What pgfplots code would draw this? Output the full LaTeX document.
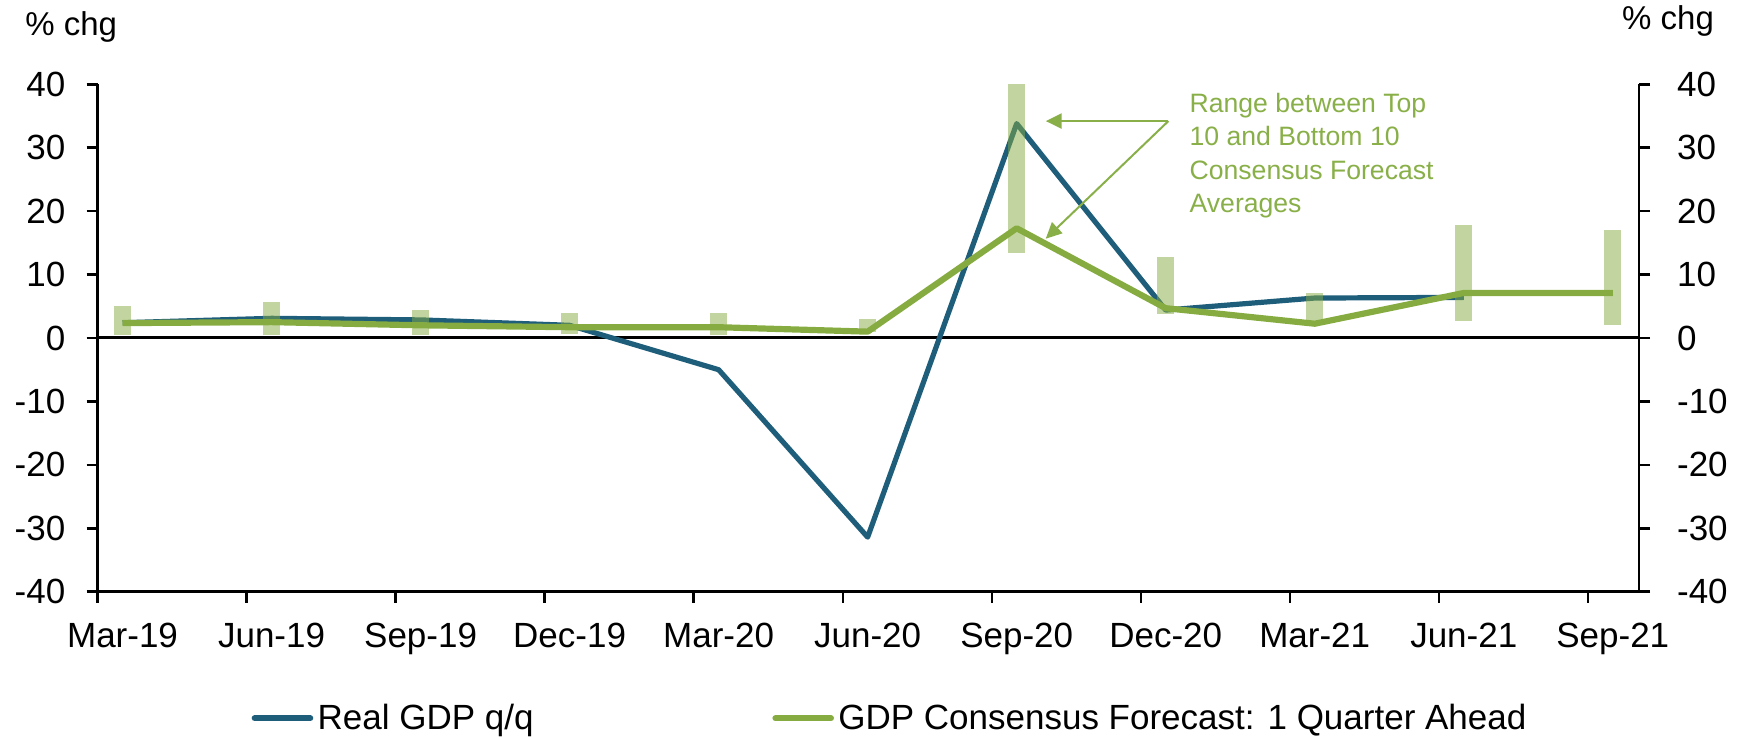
\documentclass[border=0pt]{standalone}
\usepackage{fontspec}
\setmainfont{Liberation Sans}
\usepackage{pgfplots}
\pgfplotsset{compat=1.18}
\usepackage{pgfplotstable}
\usetikzlibrary{arrows.meta}
\definecolor{gdpblue}{RGB}{31,94,122}
\definecolor{fcgreen}{RGB}{134,172,65}
\definecolor{anngreen}{RGB}{137,175,72}

\pgfplotstableread{
x gdp
0 2.4
1 3.1
2 2.85
3 2.0
4 -5.0
5 -31.4
6 33.8
7 4.4
8 6.3
9 6.4
}\gdpdata

\pgfplotstableread{
x fc
0 2.35
1 2.5
2 2.0
3 1.7
4 1.7
5 1.0
6 17.3
7 4.7
8 2.25
9 7.1
10 7.1
}\fcdata

\pgfplotstableread{
x y
0 0.55
0 5.1
0 nan
1 0.4
1 5.75
1 nan
2 0.4
2 4.35
2 nan
3 0.65
3 3.9
3 nan
4 0.55
4 4.0
4 nan
5 0.9
5 3.0
5 nan
6 13.45
6 40
6 nan
7 3.8
7 12.8
7 nan
8 2.3
8 7.05
8 nan
9 2.75
9 17.75
9 nan
10 2.1
10 16.95
}\rangedata

\begin{document}
\begin{tikzpicture}
\pgfplotsset{
  base/.style={
    scale only axis, width=770.65pt, height=253.7pt,
    xmin=-0.16667, xmax=10.176, ymin=-40, ymax=40,
    ytick={-40,-30,...,40},
    yticklabels={-40,-30,-20,-10,0,10,20,30,40},
    tick align=outside,
    major tick length=5.5pt,
    every tick/.style={black, line width=1.3pt},
    axis line style={black, line width=1.3pt},
    tick label style={font=\fontsize{17.5}{21}\selectfont, black},
  }
}
\begin{axis}[base, name=ax,
    axis x line*=bottom, axis y line*=left,
    xtick={-0.16667,0.83333,...,9.9},
    xticklabels={Mar-19,Jun-19,Sep-19,Dec-19,Mar-20,Jun-20,Sep-20,Dec-20,Mar-21,Jun-21,Sep-21},
    xticklabel style={xshift=12.42pt, yshift=-6.5pt},
    yticklabel style={xshift=-7.2pt},
    legend style={at={(axis description cs:0.0999,-0.2495)}, anchor=west,
      draw=none, fill=none, inner sep=0pt, outer sep=0pt,
      font=\fontsize{17.5}{21}\selectfont,
      nodes={inner sep=2.2pt},
      legend columns=2,
      /tikz/every even column/.append style={column sep=117.2pt}},
    legend cell align=left,
    legend image code/.code={\draw[#1, line cap=round, line width=3pt] (0pt,0pt) -- (27.8pt,0pt);},
  ]
  \addplot[forget plot, black, line width=1.5pt] coordinates {(-0.16667,0) (10.176,0)};
  \addplot[gdpblue, line width=2.6pt, line join=round] table[x=x, y=gdp] {\gdpdata};
  \addlegendentry{Real GDP q/q}
  \addplot[fcgreen, line width=3.1pt, line join=round] table[x=x, y=fc] {\fcdata};
  \addlegendentry{GDP Consensus Forecast: 1 Quarter Ahead}
  \addplot[forget plot, draw=fcgreen, draw opacity=0.5, line width=8.3pt, line cap=butt, unbounded coords=jump] table[x=x, y=y] {\rangedata};
  \draw[anngreen, line width=1.3pt, -{Triangle[length=8pt,width=7.5pt]}] (axis cs:7.018,34.2) -- (axis cs:6.195,34.2);
  \draw[anngreen, line width=1pt, -{Triangle[length=8pt,width=7.5pt]}] (axis cs:7.018,34.2) -- (axis cs:6.195,15.65);
  \node[anchor=north west, inner sep=0pt, align=left, text=anngreen, font=\fontsize{13.3}{16.7}\selectfont] at (axis cs:7.158,38.7) {Range between Top\\10 and Bottom 10\\Consensus Forecast\\Averages};
\end{axis}
\begin{axis}[base, at={(ax.south west)}, anchor=south west,
    axis x line=none, axis y line*=right,
    yticklabel style={xshift=10pt}]
\end{axis}
\node[anchor=base west, inner sep=0pt, font=\fontsize{16.5}{20}\selectfont] at ([xshift=-36.4pt, yshift=24.15pt]ax.north west) {\% chg};
\node[anchor=base east, inner sep=0pt, font=\fontsize{16.5}{20}\selectfont] at ([xshift=37.65pt, yshift=27.15pt]ax.north east) {\% chg};
\pgfresetboundingbox
\path[use as bounding box] ([xshift=-48.85pt,yshift=-72.65pt]ax.south west) rectangle ([xshift=49pt,yshift=42.15pt]ax.north east);
\end{tikzpicture}
\end{document}
